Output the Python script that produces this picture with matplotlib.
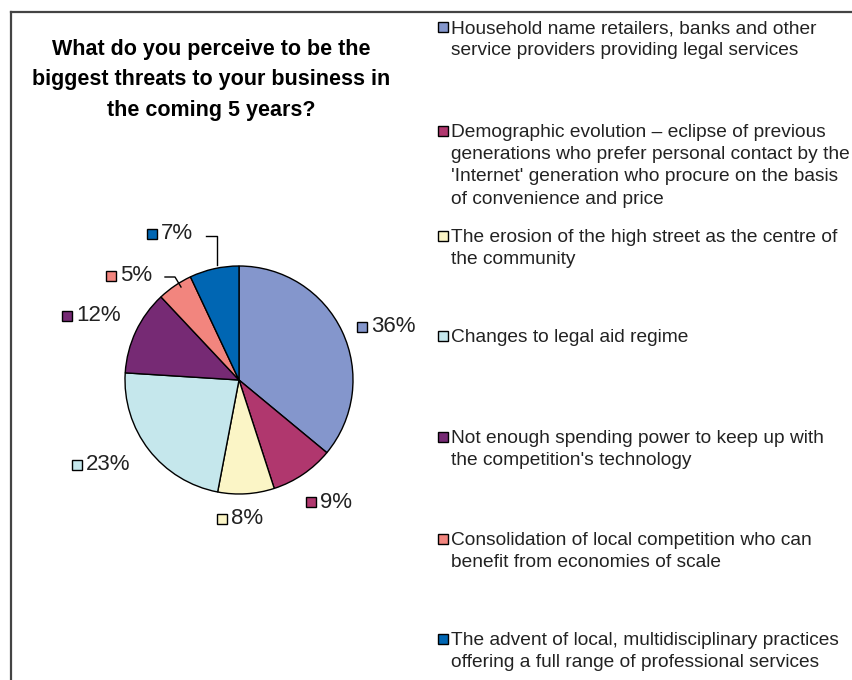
import matplotlib
matplotlib.use("Agg")
import matplotlib.pyplot as plt
from matplotlib.patches import Rectangle
from matplotlib.lines import Line2D

# survey answers, clockwise from 12 o'clock
categories = [
    "Household name retailers, banks and other\nservice providers providing legal services",
    "Demographic evolution \u2013 eclipse of previous\ngenerations who prefer personal contact by the\n'Internet' generation who procure on the basis\nof convenience and price",
    "The erosion of the high street as the centre of\nthe community",
    "Changes to legal aid regime",
    "Not enough spending power to keep up with\nthe competition's technology",
    "Consolidation of local competition who can\nbenefit from economies of scale",
    "The advent of local, multidisciplinary practices\noffering a full range of professional services",
]
shares = [36, 9, 8, 23, 12, 5, 7]
colors = ["#8496CC", "#B0376E", "#FBF5C6", "#C5E7EC", "#762A74", "#F2857E", "#0066B3"]

title = "What do you perceive to be the\nbiggest threats to your business in\nthe coming 5 years?"

W, H = 853, 680
fig = plt.figure(figsize=(W / 100, H / 100), dpi=100)
ax = fig.add_axes([0, 0, 1, 1])

# pie in pixel-like units (y measured upward)
cx, cy, r = 239, H - 380, 114
ax.pie(shares, colors=colors, startangle=90, counterclock=False,
       center=(cx, cy), radius=r,
       wedgeprops=dict(edgecolor="black", linewidth=1.0))
ax.set_xlim(0, W)
ax.set_ylim(0, H)
ax.set_aspect("equal")
ax.axis("off")

font = ["Liberation Sans", "DejaVu Sans"]

# value labels: small colour box + percentage
label_pos = [(362, 327), (311, 502), (222, 519), (77, 465), (67, 316), (111, 276), (152, 234)]
for v, c, (lx, ly) in zip(shares, colors, label_pos):
    ax.add_patch(Rectangle((lx - 5, H - ly - 5), 10, 10, facecolor=c,
                           edgecolor="black", linewidth=1.0))
    ax.text(lx + 9, H - ly, f"{v}%", fontsize=16, family=font,
            ha="left", va="center", color="#222222")

# leader lines for the two small slices at the top
ax.plot([206, 217, 217], [H - 236, H - 236, H - 265], color="black", lw=1)
ax.plot([165, 175, 181], [H - 277, H - 277, H - 287], color="black", lw=1)

# title
ax.text(211, H - 80, title, fontsize=15.5, fontweight="bold", family=font,
        ha="center", va="center", linespacing=1.6, color="black")

# legend
legend_y = [27, 131, 236, 336, 437, 539, 639]
for text, c, ly in zip(categories, colors, legend_y):
    ax.add_patch(Rectangle((438, H - ly - 5), 10, 10, facecolor=c,
                           edgecolor="black", linewidth=1.0))
    ax.text(451, H - ly + 7, text, fontsize=13.8, family=font,
            ha="left", va="top", linespacing=1.4, color="#222222")

# chart frame (left and top edges)
fig.add_artist(Line2D([11 / W, 11 / W], [0, 1 - 12 / H], color="#444444", lw=1.6))
fig.add_artist(Line2D([11 / W, 1], [1 - 12 / H, 1 - 12 / H], color="#444444", lw=1.6))

fig.savefig("out.png", dpi=100, facecolor="white")
